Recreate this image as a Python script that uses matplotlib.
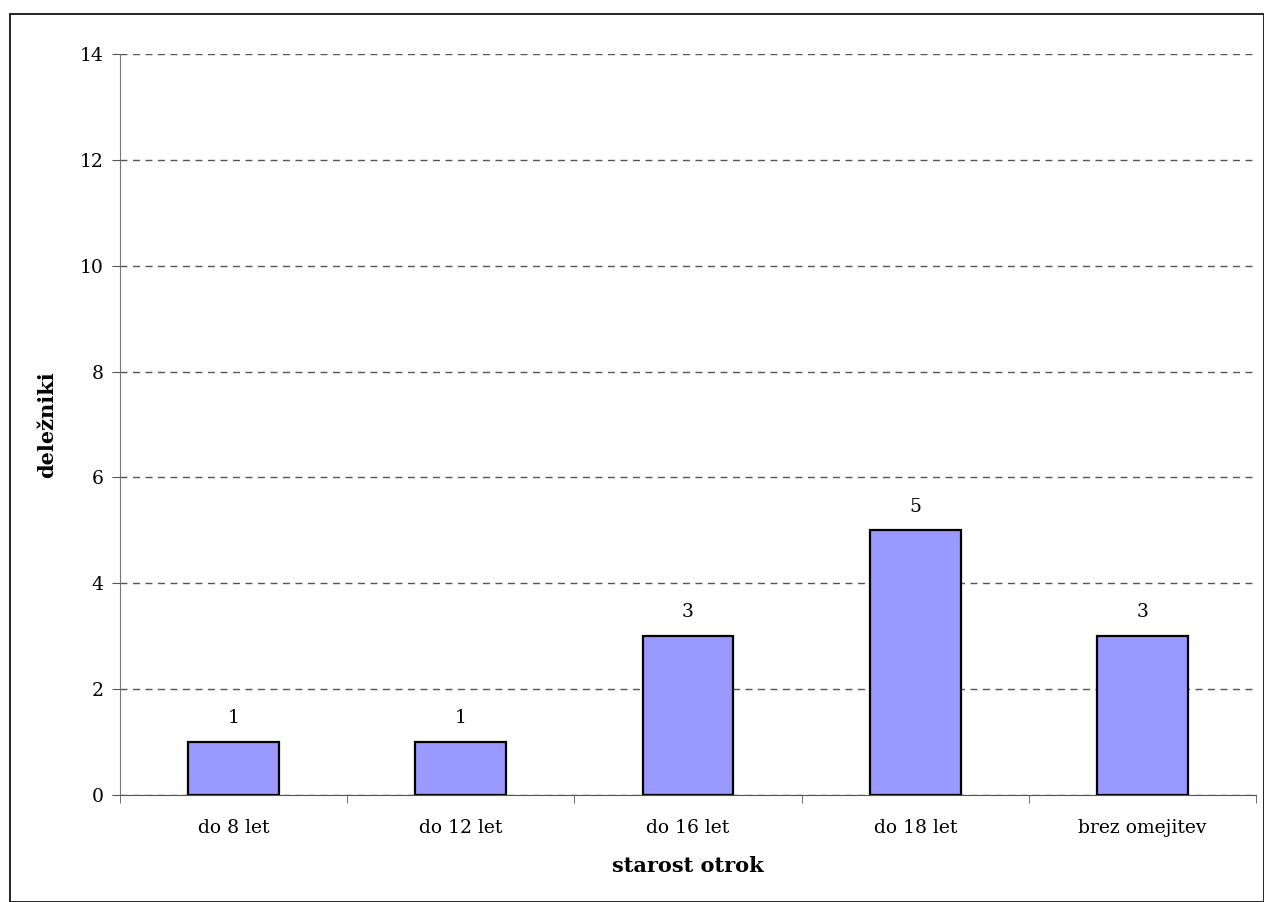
import numpy as np
import matplotlib.pyplot as plt
from matplotlib.patches import Rectangle

# podatki
kategorije = ['do 8 let', 'do 12 let', 'do 16 let', 'do 18 let', 'brez omejitev']
vrednosti = [1, 1, 3, 5, 3]

plt.rcParams['font.family'] = 'DejaVu Serif'

fig = plt.figure(figsize=(12.64, 9.02), dpi=100)
ax = fig.add_axes([120/1264, 107/902, (1256-120)/1264, (795-54)/902])

x = np.arange(len(kategorije))
bars = ax.bar(x, vrednosti, width=0.4, color='#9999FF', edgecolor='black', linewidth=1.6, zorder=3)
for b, v in zip(bars, vrednosti):
    ax.text(b.get_x() + b.get_width()/2, v + 0.28, str(v), ha='center', va='bottom', fontsize=13.5)

ax.set_xlim(-0.5, len(kategorije) - 0.5)
ax.set_ylim(0, 14)
ax.set_yticks(range(0, 15, 2))
ax.set_xticks(x)
ax.set_xticklabels(kategorije, fontsize=13.5)
ax.set_xticks(np.arange(-0.5, len(kategorije)), minor=True)
ax.tick_params(axis='x', which='major', length=0, pad=17)
ax.tick_params(axis='x', which='minor', length=6, color='#555555')
ax.tick_params(axis='y', labelsize=13.5, length=6, color='#555555', pad=6)

ax.yaxis.grid(True, linestyle=(0, (5, 4)), color='#555555', linewidth=1)
ax.set_axisbelow(True)
for s in ['top', 'right']:
    ax.spines[s].set_visible(False)
ax.spines['left'].set_color('#777777')
ax.spines['bottom'].set_color('#555555')

ax.set_xlabel('starost otrok', fontsize=15, fontweight='bold', labelpad=14)
ax.set_ylabel('deležniki', fontsize=15, fontweight='bold', labelpad=16)

# okvir slike
fig.patches.append(Rectangle((10/1264, 0.5/902), 1 - 10.5/1264, 1 - 14/902 - 0.5/902,
                             transform=fig.transFigure, fill=False, edgecolor='black', linewidth=1.2))

fig.savefig('out.png', dpi=100)
